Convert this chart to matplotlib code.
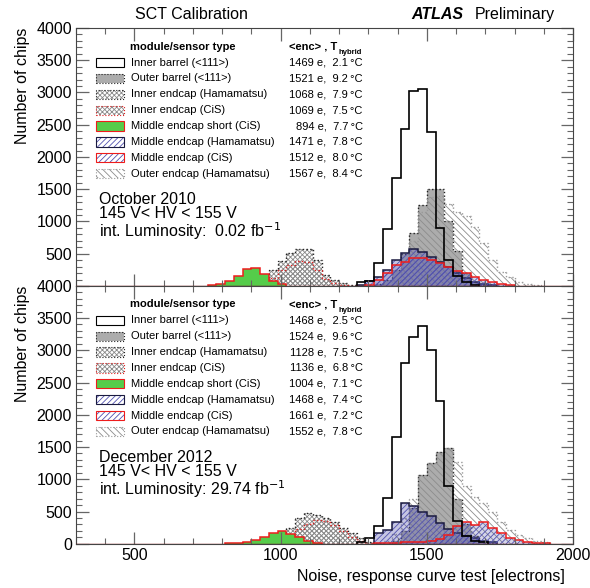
import numpy as np
import matplotlib
matplotlib.use("Agg")
import matplotlib.pyplot as plt
from matplotlib.patches import Rectangle
from matplotlib.ticker import MultipleLocator

plt.rcParams['font.family'] = ['Liberation Sans', 'DejaVu Sans']
plt.rcParams['hatch.linewidth'] = 0.6

BIN = 30  # electrons per bin

# ---------------- October 2010 (start of first bin, counts per bin)
ib10_start, ib10 = 1260, [60, 80, 360, 890, 1680, 2430, 3030, 3050, 2380, 900, 400, 150, 60, 20]
ob10_start, ob10 = 1320, [30, 100, 250, 500, 820, 1250, 1510, 1510, 1000, 550, 200, 60, 20]
ieh10_start, ieh10 = 900, [20, 60, 250, 380, 510, 580, 580, 400, 170, 90, 40, 15, 5]
iec10_start, iec10 = 930, [40, 130, 250, 330, 380, 370, 250, 110, 50, 20]
ms10_start, ms10 = 750, [10, 25, 70, 150, 260, 280, 190, 70, 30]
mh10_start, mh10 = 1260, [20, 80, 145, 250, 400, 510, 570, 520, 455, 375, 290, 205, 120, 65, 30, 10]
mc10_start, mc10 = 1290, [20, 100, 195, 325, 375, 440, 430, 400, 360, 300, 235, 205, 135, 95, 55, 25, 10]
oe10_start, oe10 = 1380, [100, 300, 700, 1150, 1380, 1400, 1270, 1150, 1080, 920, 660, 400, 220, 140, 65, 30, 10]

# ---------------- December 2012
ib12_start, ib12 = 1260, [30, 90, 270, 710, 1650, 2800, 3200, 3380, 3000, 2220, 900, 350, 120, 50, 20]
ob12_start, ob12 = 1380, [50, 200, 550, 1070, 1260, 1430, 1480, 700, 300, 120, 40, 15]
ieh12_start, ieh12 = 930, [10, 30, 80, 250, 400, 480, 440, 400, 330, 240, 160, 90, 30, 10]
iec12_start, iec12 = 990, [40, 120, 230, 300, 370, 360, 290, 200, 110, 50, 15]
ms12_start, ms12 = 810, [5, 10, 25, 60, 110, 160, 200, 150, 100, 50, 15]
mh12_start, mh12 = 1320, [165, 215, 330, 640, 580, 500, 425, 320, 225, 165, 125, 90, 50, 20]
mc12_start, mc12 = 1320, [5, 10, 15, 20, 25, 30, 40, 80, 140, 270, 330, 295, 330, 245, 165, 90, 60, 35, 15, 5]
oe12_start, oe12 = 1350, [50, 150, 400, 700, 1070, 1260, 1430, 1480, 1270, 890, 730, 630, 485, 345, 215, 140, 90, 50, 25]

labels = ["Inner barrel (<111>)", "Outer barrel (<111>)", "Inner endcap (Hamamatsu)",
          "Inner endcap (CiS)", "Middle endcap short (CiS)", "Middle endcap (Hamamatsu)",
          "Middle endcap (CiS)", "Outer endcap (Hamamatsu)"]
enc10 = ["1469", "1521", "1068", "1069", "894", "1471", "1512", "1567"]
temp10 = ["2.1", "9.2", "7.9", "7.5", "7.7", "7.8", "8.0", "8.4"]
enc12 = ["1468", "1524", "1128", "1136", "1004", "1468", "1661", "1552"]
temp12 = ["2.5", "9.6", "7.5", "6.8", "7.1", "7.4", "7.2", "7.8"]

# styles: face, hatch, hatch colour, edge colour, linestyle
styles = [
    dict(face='none', hatch=None, hc=None, edge='black', ls='-', lw=1.2),
    dict(face='#acacac', hatch=None, hc=None, edge='#222222', ls=':', lw=1.0),
    dict(face='white', hatch='xxxxxxx', hc='#8a8a8a', edge='#222222', ls=':', lw=1.0),
    dict(face='none', hatch='xxxxxxx', hc='#8a8a8a', edge='#e02020', ls=':', lw=1.0),
    dict(face='#55cc4a', hatch=None, hc=None, edge='#ee1c1c', ls='-', lw=1.1),
    dict(face=(0.35, 0.35, 0.68, 0.35), hatch='//////', hc='#5050b0', edge='#1a1a40', ls='-', lw=1.1),
    dict(face=(0.35, 0.35, 0.68, 0.25), hatch='//////', hc='#5050b0', edge='#ee1c1c', ls='-', lw=1.1),
    dict(face='none', hatch='\\\\\\\\\\', hc='#8c8c8c', edge='#9a9a9a', ls=':', lw=1.0),
]


def draw_hist(ax, start, counts, st):
    edges = start + BIN * np.arange(len(counts) + 1)
    if st['face'] != 'none':
        ax.stairs(counts, edges, fill=True, facecolor=st['face'], linewidth=0)
    if st['hatch']:
        ax.stairs(counts, edges, fill=True, facecolor='none', edgecolor=st['hc'],
                  hatch=st['hatch'], linewidth=0)
    ax.stairs(counts, edges, color=st['edge'], linestyle=st['ls'], linewidth=st['lw'])


def draw_legend(ax, encs, temps):
    y0, dy = 0.866, 0.0615
    ax.text(0.109, 0.928, "module/sensor type", transform=ax.transAxes, fontsize=8,
            fontweight='bold', va='center')
    ax.text(0.428, 0.928, "<enc> , T", transform=ax.transAxes, fontsize=8,
            fontweight='bold', va='center')
    ax.text(0.529, 0.905, "hybrid", transform=ax.transAxes, fontsize=5.5,
            fontweight='bold', va='center')
    for i, lab in enumerate(labels):
        st = styles[i]
        y = y0 - i * dy
        face = '#acacac' if st['face'] == '#acacac' else ('#55cc4a' if st['face'] == '#55cc4a' else 'white')
        box = (0.0405, y - 0.018)
        ax.add_patch(Rectangle(box, 0.056, 0.036, transform=ax.transAxes,
                               facecolor=face, edgecolor='none', linewidth=0))
        if st['hatch']:
            ax.add_patch(Rectangle(box, 0.056, 0.036, transform=ax.transAxes,
                                   facecolor='none', edgecolor=st['hc'], hatch=st['hatch'],
                                   linewidth=0))
        ax.add_patch(Rectangle(box, 0.056, 0.036, transform=ax.transAxes,
                               facecolor='none', edgecolor=st['edge'], linestyle=st['ls'],
                               linewidth=0.8))
        ax.text(0.110, y, lab, transform=ax.transAxes, fontsize=8, va='center')
        ax.text(0.577, y, f"{encs[i]} e,  {temps[i]}\u2009\u00b0C", transform=ax.transAxes,
                fontsize=8, va='center', ha='right')


def draw_panel(ax, series, encs, temps, info):
    order = [1, 7, 2, 3, 4, 5, 6, 0]
    for k in order:
        start, counts = series[k]
        draw_hist(ax, start, counts, styles[k])
    ax.axhline(0, color='#8a1c1c', linewidth=1.0, zorder=3)
    ax.set_xlim(300, 2000)
    ax.set_ylim(0, 4000)
    ax.xaxis.set_major_locator(MultipleLocator(500))
    ax.xaxis.set_minor_locator(MultipleLocator(100))
    ax.yaxis.set_major_locator(MultipleLocator(500))
    ax.yaxis.set_minor_locator(MultipleLocator(100))
    ax.tick_params(which='both', direction='in', top=True, right=True, color='#666666',
                   labelsize=11.5, pad=3)
    ax.tick_params(which='major', length=9, width=0.9)
    ax.tick_params(which='minor', length=4.5, width=0.8)
    for sp in ax.spines.values():
        sp.set_color('#444444')
        sp.set_linewidth(0.8)
    draw_legend(ax, encs, temps)
    ax.text(0.047, 0.268, info, transform=ax.transAxes, fontsize=11.5, va='center',
            linespacing=0.95)
    ax.text(-0.107, 1.0, "Number of chips", transform=ax.transAxes, rotation=90,
            fontsize=11.5, ha='center', va='top')


fig = plt.figure(figsize=(5.9, 5.88), dpi=100)
ax1 = fig.add_axes([0.1288, 0.5136, 0.8424, 0.4388])
ax2 = fig.add_axes([0.1288, 0.0752, 0.8424, 0.4388])

series10 = [(ib10_start, ib10), (ob10_start, ob10), (ieh10_start, ieh10), (iec10_start, iec10),
            (ms10_start, ms10), (mh10_start, mh10), (mc10_start, mc10), (oe10_start, oe10)]
series12 = [(ib12_start, ib12), (ob12_start, ob12), (ieh12_start, ieh12), (iec12_start, iec12),
            (ms12_start, ms12), (mh12_start, mh12), (mc12_start, mc12), (oe12_start, oe12)]

draw_panel(ax1, series10, enc10, temp10,
           "October 2010\n145 V< HV < 155 V\nint. Luminosity:  0.02 fb$^{-1}$")
draw_panel(ax2, series12, enc12, temp12,
           "December 2012\n145 V< HV < 155 V\nint. Luminosity: 29.74 fb$^{-1}$")

ax1.tick_params(labelbottom=False)
ax1.set_yticks([500, 1000, 1500, 2000, 2500, 3000, 3500, 4000])
ax2.set_yticks([0, 500, 1000, 1500, 2000, 2500, 3000, 3500, 4000])
ax2.set_xticks([500, 1000, 1500, 2000])

ax2.text(1.0 - 0.016, -0.125, "Noise, response curve test [electrons]", transform=ax2.transAxes,
         fontsize=11.5, ha='right', va='center')

fig.text(0.325, 0.976, "SCT Calibration", fontsize=11.5, ha='center', va='center')
fig.text(0.697, 0.976, "ATLAS", fontsize=11.5, fontweight='bold', style='italic', ha='left',
         va='center')
fig.text(0.805, 0.976, "Preliminary", fontsize=11.5, ha='left', va='center')

fig.savefig("out.png", dpi=100)
